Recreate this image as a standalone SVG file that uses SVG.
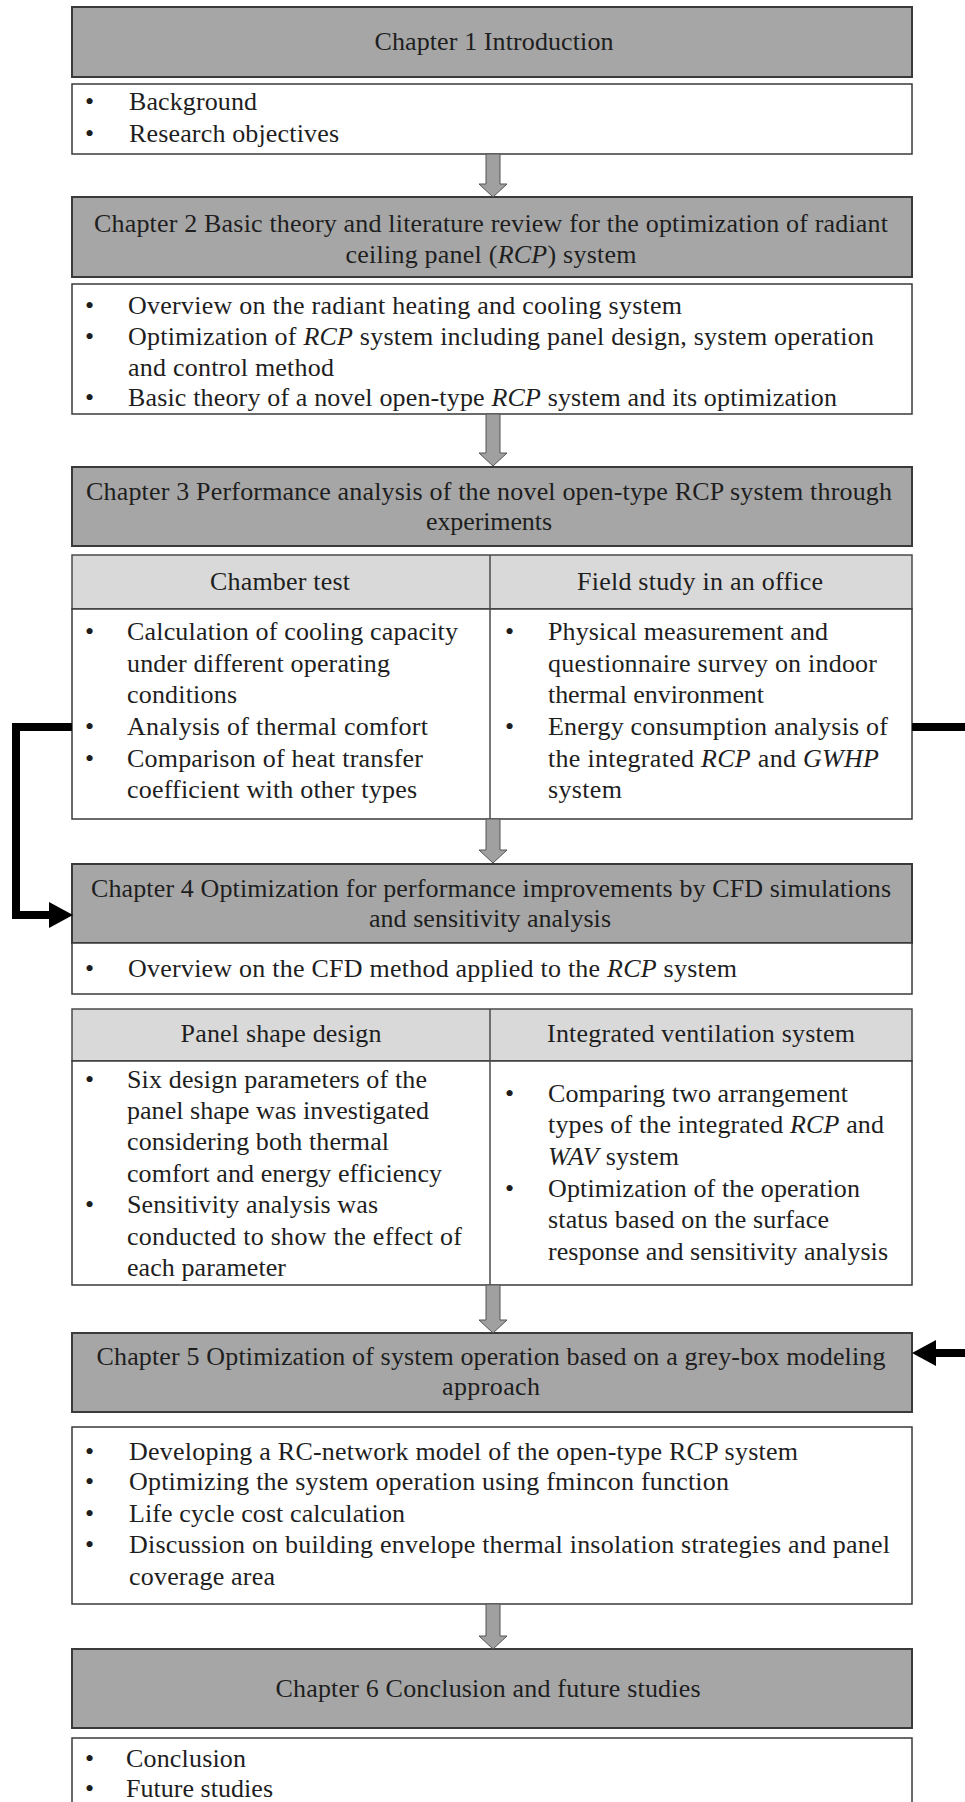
<svg xmlns="http://www.w3.org/2000/svg" width="965" height="1802" viewBox="0 0 965 1802">
<style>
text{font-family:"Liberation Serif","Times New Roman",serif;font-size:26px;fill:#1e1e1e}
.c{text-anchor:middle}
.i{font-style:italic}
.ch{fill:#a6a6a6;stroke:#3a3a3a;stroke-width:2}
.bx{fill:#fff;stroke:#3a3a3a;stroke-width:1.5}
.hd{fill:#d9d9d9;stroke:#4a4a4a;stroke-width:1.5}
.ln{stroke:#4a4a4a;stroke-width:1.5;fill:none}
.ar{fill:#a0a0a0;stroke:#555;stroke-width:1}
.side{fill:none;stroke:#000;stroke-width:8}
</style>
<defs>
<marker id="hd" markerUnits="userSpaceOnUse" markerWidth="24" markerHeight="26" viewBox="0 0 24 26" refX="6" refY="13" orient="auto">
<path d="M0,0 L24,13 L0,26 Z" fill="#000"/>
</marker>
</defs>

<g id="ch1"><rect class="ch" x="72" y="7" width="840" height="70"/><text class="c" x="494" y="50" textLength="239">Chapter 1 Introduction</text></g>
<g id="ch1-items"><rect class="bx" x="72" y="84" width="840" height="70"/>
<text x="85" y="110">•</text><text x="129" y="110" textLength="128">Background</text>
<text x="85" y="142">•</text><text x="129" y="142" textLength="210">Research objectives</text></g>

<g id="ch2"><rect class="ch" x="72" y="197" width="840" height="80"/>
<text class="c" x="491" y="232" textLength="794">Chapter 2 Basic theory and literature  review  for the optimization  of radiant</text>
<text class="c" x="491" y="263" textLength="291">ceiling  panel (<tspan class="i">RCP</tspan>) system</text></g>
<g id="ch2-items"><rect class="bx" x="72" y="284" width="840" height="130"/>
<text x="85" y="314">•</text><text x="128" y="314" textLength="554">Overview  on the radiant  heating  and cooling system</text>
<text x="85" y="345">•</text><text x="128" y="345" textLength="746">Optimization  of <tspan class="i">RCP</tspan> system including  panel design, system operation</text>
<text x="128" y="376" textLength="206">and control method</text>
<text x="85" y="406">•</text><text x="128" y="406" textLength="709">Basic theory of a novel open-type <tspan class="i">RCP</tspan> system and its optimization</text></g>

<g id="ch3"><rect class="ch" x="72" y="467" width="840" height="79"/>
<text class="c" x="489" y="500" textLength="806">Chapter 3 Performance analysis  of the novel  open-type RCP system through</text>
<text class="c" x="489" y="530" textLength="126">experiments</text></g>

<g id="ch3-table">
<rect class="hd" x="72" y="555" width="840" height="54"/>
<rect class="bx" x="72" y="609" width="840" height="210"/>
<line class="ln" x1="490" y1="555" x2="490" y2="819"/>
<text class="c" x="280" y="590" textLength="140">Chamber test</text>
<text class="c" x="700" y="590" textLength="246">Field study in an office</text>
<text x="85" y="640">•</text><text x="127" y="640" textLength="331">Calculation  of cooling capacity</text>
<text x="127" y="672" textLength="263">under different  operating</text>
<text x="127" y="703" textLength="110">conditions</text>
<text x="85" y="735">•</text><text x="127" y="735" textLength="301">Analysis  of thermal  comfort</text>
<text x="85" y="767">•</text><text x="127" y="767" textLength="296">Comparison of heat  transfer</text>
<text x="127" y="798" textLength="290">coefficient  with  other types</text>
<text x="505" y="640">•</text><text x="548" y="640" textLength="280">Physical measurement  and</text>
<text x="548" y="672" textLength="329">questionnaire  survey on indoor</text>
<text x="548" y="703" textLength="216">thermal  environment</text>
<text x="505" y="735">•</text><text x="548" y="735" textLength="340">Energy consumption analysis  of</text>
<text x="548" y="767" textLength="331">the integrated  <tspan class="i">RCP</tspan> and <tspan class="i">GWHP</tspan></text>
<text x="548" y="798" textLength="74">system</text>
</g>

<g id="ch4"><rect class="ch" x="72" y="864" width="840" height="79"/>
<text class="c" x="491" y="897" textLength="800">Chapter 4 Optimization  for performance improvements  by CFD simulations</text>
<text class="c" x="490" y="927" textLength="242">and sensitivity  analysis</text></g>
<g id="ch4-items"><rect class="bx" x="72" y="943" width="840" height="51"/>
<text x="85" y="977">•</text><text x="128" y="977" textLength="609">Overview  on the CFD method applied to the <tspan class="i">RCP</tspan> system</text></g>

<g id="ch4-table">
<rect class="hd" x="72" y="1009" width="840" height="52"/>
<rect class="bx" x="72" y="1061" width="840" height="224"/>
<line class="ln" x1="490" y1="1009" x2="490" y2="1285"/>
<text class="c" x="281" y="1042" textLength="201">Panel shape design</text>
<text class="c" x="701" y="1042" textLength="308">Integrated ventilation  system</text>
<text x="85" y="1088">•</text><text x="127" y="1088" textLength="300">Six design parameters of the</text>
<text x="127" y="1119" textLength="302">panel shape was investigated</text>
<text x="127" y="1150" textLength="262">considering both thermal</text>
<text x="127" y="1182" textLength="315">comfort and energy efficiency</text>
<text x="85" y="1213">•</text><text x="127" y="1213" textLength="251">Sensitivity  analysis  was</text>
<text x="127" y="1245" textLength="335">conducted to show the effect of</text>
<text x="127" y="1276" textLength="159">each parameter</text>
<text x="505" y="1102">•</text><text x="548" y="1102" textLength="300">Comparing two arrangement</text>
<text x="548" y="1133" textLength="336">types of the integrated  <tspan class="i">RCP</tspan> and</text>
<text x="548" y="1165" textLength="131"><tspan class="i">WAV</tspan> system</text>
<text x="505" y="1197">•</text><text x="548" y="1197" textLength="312">Optimization  of the  operation</text>
<text x="548" y="1228" textLength="281">status based on the surface</text>
<text x="548" y="1260" textLength="340">response and sensitivity  analysis</text>
</g>

<g id="ch5"><rect class="ch" x="72" y="1333" width="840" height="79"/>
<text class="c" x="491" y="1365" textLength="789">Chapter 5 Optimization  of system operation based on a grey-box modeling</text>
<text class="c" x="491" y="1395" textLength="98">approach</text></g>
<g id="ch5-items"><rect class="bx" x="72" y="1427" width="840" height="177"/>
<text x="85" y="1460">•</text><text x="129" y="1460" textLength="669">Developing  a RC-network model of the  open-type RCP system</text>
<text x="85" y="1490">•</text><text x="129" y="1490" textLength="600">Optimizing  the system operation using  fmincon  function</text>
<text x="85" y="1522">•</text><text x="129" y="1522" textLength="276">Life  cycle cost calculation</text>
<text x="85" y="1553">•</text><text x="129" y="1553" textLength="761">Discussion on building  envelope  thermal  insolation  strategies  and panel</text>
<text x="129" y="1585" textLength="146">coverage area</text></g>

<g id="ch6"><rect class="ch" x="72" y="1649" width="840" height="79"/>
<text class="c" x="488" y="1697" textLength="425">Chapter 6 Conclusion and future studies</text></g>
<g id="ch6-items"><rect class="bx" x="72" y="1738" width="840" height="90"/>
<text x="85" y="1767">•</text><text x="126" y="1767" textLength="120">Conclusion</text>
<text x="85" y="1797">•</text><text x="126" y="1797" textLength="147">Future studies</text></g>

<g id="connectors">
<path class="ar" d="M486,154 L500,154 L500,184 L507,184 L493,197 L479,184 L486,184 Z"/>
<path class="ar" d="M486,414 L500,414 L500,453 L507,453 L493,466 L479,453 L486,453 Z"/>
<path class="ar" d="M486,819 L500,819 L500,850 L507,850 L493,863 L479,850 L486,850 Z"/>
<path class="ar" d="M486,1285 L500,1285 L500,1320 L507,1320 L493,1333 L479,1320 L486,1320 Z"/>
<path class="ar" d="M486,1604 L500,1604 L500,1636 L507,1636 L493,1649 L479,1636 L486,1636 Z"/>
<path class="side" d="M72,727 L16,727 L16,915 L55,915" marker-end="url(#hd)"/>
<path class="side" d="M912,727 L975,727 L975,1353 L930,1353" marker-end="url(#hd)"/>
</g>
</svg>
